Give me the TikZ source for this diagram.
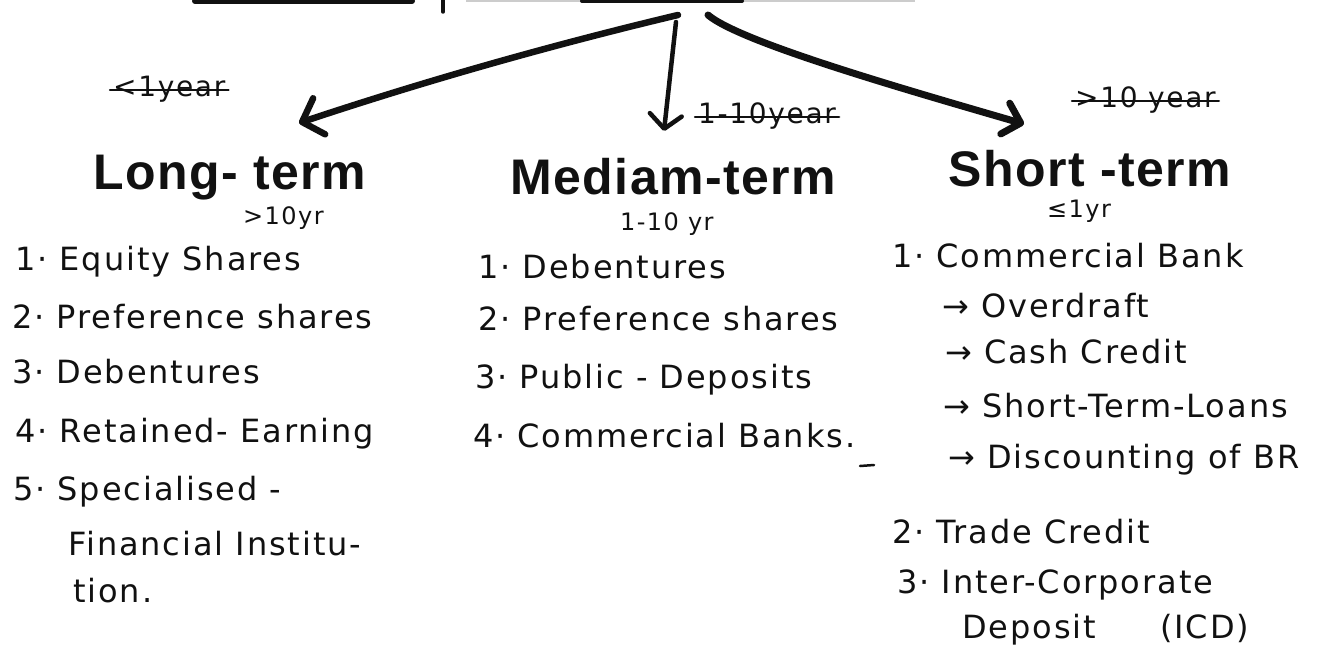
\documentclass[tikz,border=0pt]{standalone}
\usepackage{fontspec}
\setmainfont{DejaVu Sans}
\newfontfamily\hand{DejaVu Sans}[LetterSpace=6]
\newfontfamily\headfont{Liberation Sans}[LetterSpace=3]
\usetikzlibrary{arrows.meta}
\definecolor{ink}{HTML}{111111}
\begin{document}
\begin{tikzpicture}[x=1pt,y=-1pt,
  every node/.style={inner sep=0pt, anchor=base west, text=ink},
  item/.style={font=\hand\fontsize{32}{38}\selectfont},
  heading/.style={font=\headfont\bfseries\fontsize{50}{60}\selectfont},
  span/.style={font=\hand\fontsize{24}{28}\selectfont},
  period/.style={font=\hand\fontsize{28}{32}\selectfont},
  strike/.style={draw=ink, line width=2.2pt, line cap=round},
  branch/.style={draw=ink, line cap=round, line join=round},
  scrap/.style={draw=ink, line cap=round}
]
\fill[white] (0,0) rectangle (1322,655);
\useasboundingbox (0,0) rectangle (1322,655);

% pieces of the title above, cut by the page edge
\draw[scrap, line width=6pt] (195,1) -- (412,1);
\draw[scrap, line width=3.5pt] (443,0) -- (443,12);
\draw[draw=gray!40, line width=1.2pt] (466,1) -- (915,1);
\draw[scrap, line width=4pt] (582,1) -- (742,1);

% where the three branches start and end
\coordinate (root) at (678,15);
\coordinate (tipL) at (299,123);
\coordinate (tipM) at (664,131);
\coordinate (tipR) at (1024,124);

\draw[branch, line width=6.5pt, -{Straight Barb[length=18pt,width=38pt,round]}]
  (root) .. controls (552,45) and (425,81) .. (tipL);
\draw[branch, line width=4.5pt, -{Straight Barb[length=14pt,width=32pt,round]}]
  ([shift={(-2pt,-7pt)}]root) -- (tipM);
\draw[branch, line width=7pt, -{Straight Barb[length=16pt,width=32pt,round]}]
  ([xshift=30pt]root) .. controls (740,42) and (900,88) .. (tipR);

% crossed-out period labels
\node[period] (sL) at (113,97) {<1year};
\node[period] (sM) at (698,124) {1-10year};
\node[period] (sR) at (1075,108) {>10 year};
\foreach \s in {sL,sM,sR}
  \draw[strike] ([shift={(-3pt,7pt)}]\s.base west) -- ([shift={(3pt,7pt)}]\s.base east);

% column headings
\node[heading] (hL) at (93,190) {Long- term};
\node[heading] (hM) at (510,195) {Mediam-term};
\node[heading] (hR) at (948,187) {Short -term};
\node[span] (pL) at (243,225) {>10yr};
\node[span] (pM) at (620,230) {1-10 yr};
\node[span] (pR) at (1047,218) {≤1yr};

% long-term sources
\node[item] (l1) at (15,270) {1· Equity Shares};
\node[item] (l2) at (12,328) {2· Preference shares};
\node[item] (l3) at (12,383) {3· Debentures};
\node[item] (l4) at (15,442) {4· Retained- Earning};
\node[item] (l5) at (13,500) {5· Specialised -};
\node[item] (l5b) at (68,555) {Financial Institu-};
\node[item] (l5c) at (73,602) {tion.};

% medium-term sources
\node[item] (m1) at (478,278) {1· Debentures};
\node[item] (m2) at (478,330) {2· Preference shares};
\node[item] (m3) at (475,388) {3· Public - Deposits};
\node[item] (m4) at (473,447) {4· Commercial Banks.};
\draw[scrap, line width=2.5pt] (860,466) -- (874,465);

% short-term sources
\node[item] (r1) at (892,267) {1· Commercial Bank};
\node[item] (r1a) at (942,317) {→ Overdraft};
\node[item] (r1b) at (945,363) {→ Cash Credit};
\node[item] (r1c) at (943,417) {→ Short-Term-Loans};
\node[item] (r1d) at (948,468) {→ Discounting of BR};
\node[item] (r2) at (892,543) {2· Trade Credit};
\node[item] (r3) at (897,593) {3· Inter-Corporate};
\node[item] (r3b) at (962,638) {Deposit\hspace{2em}(ICD)};
\end{tikzpicture}
\end{document}
